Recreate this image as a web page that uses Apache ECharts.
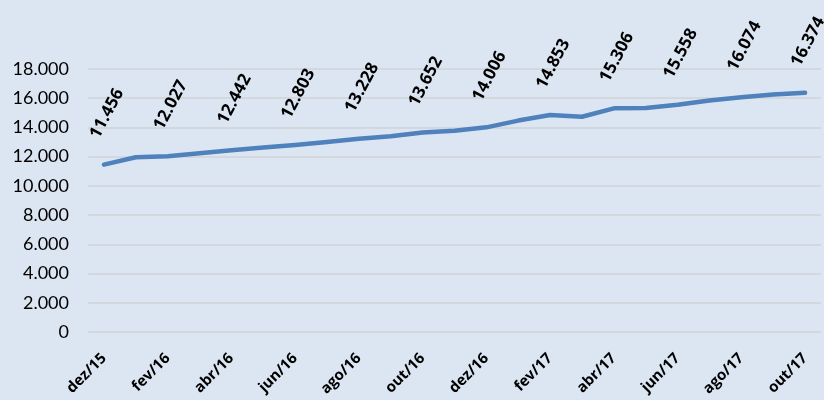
<!DOCTYPE html>
<html>
<head>
<meta charset="utf-8">
<script src="https://cdn.jsdelivr.net/npm/echarts@6/dist/echarts.min.js"></script>
<style>
html,body{margin:0;padding:0;background:#dce6f2;}
#chart{width:824px;height:400px;}
</style>
</head>
<body>
<div id="chart"></div>
<script>
const categories = ['dez/15','jan/16','fev/16','mar/16','abr/16','mai/16','jun/16','jul/16','ago/16','set/16','out/16','nov/16','dez/16','jan/17','fev/17','mar/17','abr/17','mai/17','jun/17','jul/17','ago/17','set/17','out/17'];
const values = [11456,11960,12027,12230,12442,12620,12803,13010,13228,13390,13652,13780,14006,14470,14853,14730,15306,15330,15558,15850,16074,16260,16374];
const yTicks = {min:0, max:18000, interval:2000};

function fmt(v){
  return String(v).replace(/\B(?=(\d{3})+(?!\d))/g, '.');
}

const chart = echarts.init(document.getElementById('chart'), null, {renderer:'canvas'});
chart.setOption({
  backgroundColor:'#dce6f2',
  animation:false,
  grid:{left:88,right:3,top:69,bottom:68,containLabel:false},
  xAxis:{
    type:'category',
    data:categories,
    boundaryGap:true,
    axisLine:{show:false},
    axisTick:{show:false},
    axisLabel:{
      interval:1,
      rotate:45,
      margin:24,
      fontFamily:'Open Sans',
      fontWeight:'bold',
      fontSize:15,
      color:'#000'
    }
  },
  yAxis:{
    type:'value',
    min:yTicks.min,
    max:yTicks.max,
    interval:yTicks.interval,
    axisLine:{show:false},
    axisTick:{show:false},
    splitLine:{lineStyle:{color:'#d3d7de',width:2}},
    axisLabel:{
      margin:19,
      fontFamily:'Lato',
      fontSize:18,
      color:'#000',
      formatter:function(v){return fmt(v);}
    }
  },
  series:[{
    type:'line',
    data:values,
    symbol:'circle',
    symbolSize:1,
    showSymbol:true,
    lineStyle:{color:'#4f81bd',width:4.5,cap:'round',join:'round'},
    itemStyle:{color:'#4f81bd'},
    label:{
      show:true,
      position:[-9,-27],
      rotate:62,
      align:'left',
      verticalAlign:'middle',
      fontFamily:'Open Sans',
      fontWeight:'bold',
      fontSize:17,
      color:'#000',
      formatter:function(p){return p.dataIndex % 2 === 0 ? fmt(p.value) : '';}
    },
    labelLayout:{hideOverlap:false}
  }]
});
</script>
</body>
</html>
